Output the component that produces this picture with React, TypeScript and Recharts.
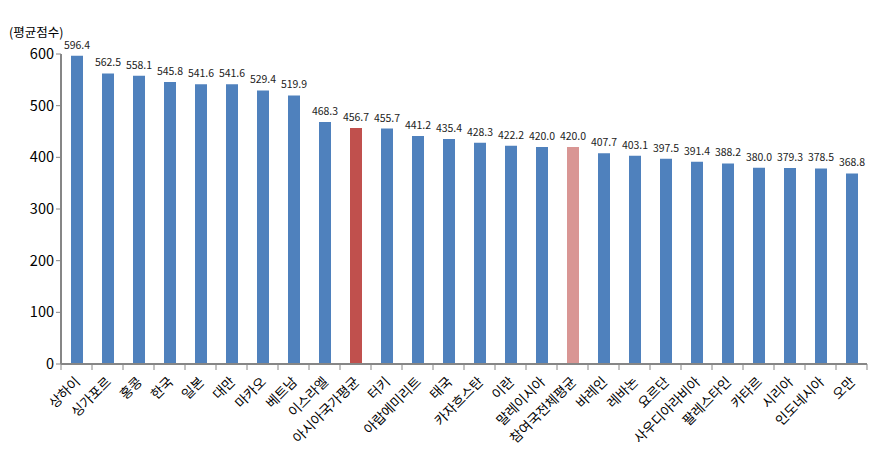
import React from "react";
import * as Recharts from "recharts";

const BarChart = Recharts.BarChart as any;
const Bar = Recharts.Bar as any;
const XAxis = Recharts.XAxis as any;
const YAxis = Recharts.YAxis as any;
const Cell = Recharts.Cell as any;
const LabelList = Recharts.LabelList as any;

const countries = [
  "상하이", "싱가포르", "홍콩", "한국", "일본", "대만", "마카오", "베트남",
  "이스라엘", "아시아국가평균", "터키", "아랍에미리트", "태국", "카자흐스탄",
  "이란", "말레이시아", "참여국전체평균", "바레인", "레바논", "요르단",
  "사우디아라비아", "팔레스타인", "카타르", "시리아", "인도네시아", "오만",
];

const scores = [
  596.4, 562.5, 558.1, 545.8, 541.6, 541.6, 529.4, 519.9, 468.3, 456.7,
  455.7, 441.2, 435.4, 428.3, 422.2, 420.0, 420.0, 407.7, 403.1, 397.5,
  391.4, 388.2, 380.0, 379.3, 378.5, 368.8,
];

const yTicks = [0, 100, 200, 300, 400, 500, 600];

const highlight: Record<string, string> = {
  "아시아국가평균": "#C0504D",
  "참여국전체평균": "#D99694",
};

const data = countries.map((name, i) => ({ name, score: scores[i] }));

const FONT = "'Noto Sans CJK KR', 'Noto Sans', sans-serif";
const STEP = (866.5 - 61) / countries.length;

function CountryTick({ x, y, payload, index }: any) {
  const half = STEP / 2;
  const last = index === countries.length - 1;
  return (
    <g>
      <line x1={x - half} y1={y - 8} x2={x - half} y2={y - 2} stroke="#868686" />
      {last && <line x1={x + half} y1={y - 8} x2={x + half} y2={y - 2} stroke="#868686" />}
      <text
        x={x + 2}
        y={y + 8}
        transform={`rotate(-45 ${x + 2} ${y + 8})`}
        textAnchor="end"
        dominantBaseline="middle"
        fontSize={13.5}
        fill="#000"
        fontFamily={FONT}
      >
        {payload.value}
      </text>
    </g>
  );
}

export default function App() {
  return (
    <div style={{ position: "absolute", left: 0, top: 0, width: 889, height: 455, background: "#fff" }}>
      <div style={{ position: "absolute", left: 9, top: 22, fontSize: 12.5, fontFamily: FONT, color: "#000" }}>
        (평균점수)
      </div>
      <BarChart
        width={889}
        height={455}
        data={data}
        margin={{ top: 54, right: 22, bottom: 0, left: 0 }}
      >
        <XAxis
          dataKey="name"
          interval={0}
          height={91}
          tick={<CountryTick />}
          tickLine={false}
          axisLine={{ stroke: "#868686", strokeWidth: 2 }}
        />
        <YAxis
          width={61}
          domain={[0, 600]}
          ticks={yTicks}
          interval={0}
          tickSize={5}
          tickLine={{ stroke: "#868686" }}
          axisLine={{ stroke: "#868686", strokeWidth: 2 }}
          tick={{ fontSize: 14.5, fill: "#000", fontFamily: FONT }}
        />
        <Bar dataKey="score" barSize={12} isAnimationActive={false}>
          {data.map((d) => (
            <Cell key={d.name} fill={highlight[d.name] || "#4F81BD"} />
          ))}
          <LabelList
            dataKey="score"
            position="top"
            offset={7}
            formatter={(v: number) => v.toFixed(1)}
            style={{ fontSize: 10.5, fill: "#222", fontFamily: FONT }}
          />
        </Bar>
      </BarChart>
    </div>
  );
}
